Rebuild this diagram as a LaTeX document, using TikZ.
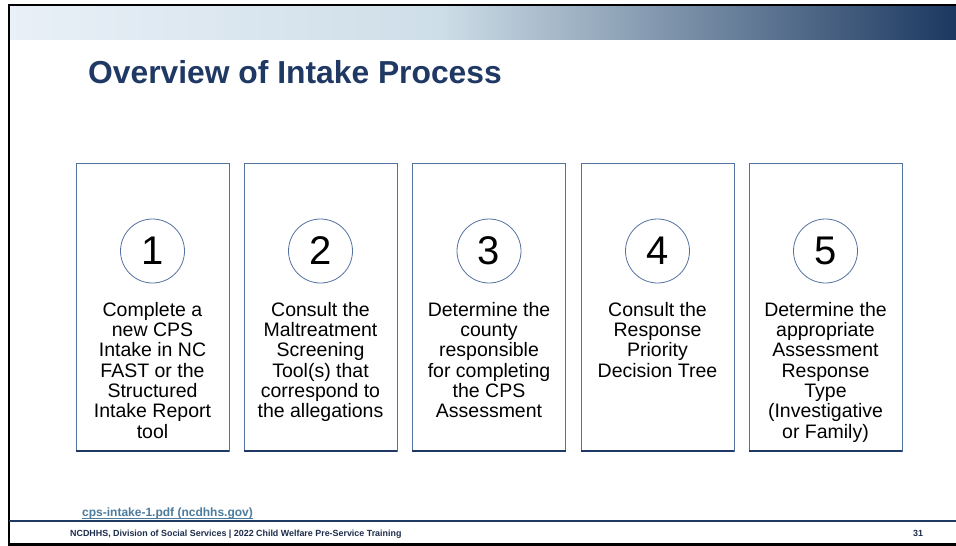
\documentclass[tikz,border=0pt]{standalone}
\usepackage{fontspec}
\setmainfont{Liberation Sans}
\definecolor{navy}{RGB}{31,56,100}
\definecolor{boxblue}{RGB}{84,114,160}
\definecolor{linkblue}{RGB}{76,124,158}
\definecolor{gradL}{RGB}{233,240,247}
\definecolor{gradM}{RGB}{206,222,232}
\definecolor{gradR}{RGB}{28,56,96}
\definecolor{foottext}{RGB}{30,45,75}
\tikzset{
  stepbox/.style={draw=boxblue, line width=0.8pt, minimum width=153pt, minimum height=288pt, inner sep=0pt},
  numcircle/.style={circle, draw=boxblue, line width=0.8pt, minimum size=64pt, inner sep=0pt, font=\fontsize{40}{44}\selectfont},
  steptext/.style={anchor=north, align=center, inner sep=0pt, font=\fontsize{19.5}{20.3}\selectfont},
  bottomrule/.style={draw=navy, line width=2pt},
  foottextstyle/.style={anchor=base west, inner sep=0pt, text=foottext, font=\fontsize{8.9}{10}\selectfont\bfseries}
}
\begin{document}
\begin{tikzpicture}[x=1pt,y=-1pt]
\useasboundingbox (0,0) rectangle (956,546);
\fill[white] (0,0) rectangle (956,546);
% top gradient bar
\shade[left color=gradL, right color=gradM] (9,6) rectangle (440,39.5);
\shade[left color=gradM, right color=gradR] (439.5,6) rectangle (956,39.5);
% frame lines
\draw[black, line width=2pt] (8,5) -- (956,5);
\draw[black, line width=2.5pt] (9,4) -- (9,545);
\draw[black, line width=3pt] (8,544.5) -- (956,544.5);
% footer rule
\draw[navy, line width=1.5pt] (9,521) -- (956,521);
% title
\node[anchor=base west, inner sep=0pt, text=navy, font=\fontsize{31.8}{38}\selectfont\bfseries] (title) at (88,83) {Overview of Intake Process};
% boxes
\foreach \i/\cx/\txt in {
  1/152.5/{Complete a\\new CPS\\Intake in NC\\FAST or the\\Structured\\Intake Report\\tool},
  2/320.5/{Consult the\\Maltreatment\\Screening\\Tool(s) that\\correspond to\\the allegations},
  3/489/{Determine the\\county\\responsible\\for completing\\the CPS\\Assessment},
  4/657.5/{Consult the\\Response\\Priority\\Decision Tree},
  5/825.5/{Determine the\\appropriate\\Assessment\\Response\\Type\\(Investigative\\or Family)}}{
  \node[stepbox] (box\i) at (\cx,307) {};
  \draw[bottomrule] (box\i.south west) -- (box\i.south east);
  \node[numcircle] (num\i) at (\cx,251) {\i};
  \node[steptext] (txt\i) at (\cx,302) {\txt};
}
% link
\node[anchor=base west, inner sep=0pt, text=linkblue, font=\fontsize{12}{14}\selectfont\bfseries] (link) at (82,516) {cps-intake-1.pdf (ncdhhs.gov)};
\draw[linkblue, line width=0.9pt] ([yshift=-2pt]link.base west) -- ([yshift=-2pt]link.base east);
% footer
\node[foottextstyle] (foot) at (70,536) {NCDHHS, Division of Social Services | 2022 Child Welfare Pre-Service Training};
\node[foottextstyle] (page) at (913,536) {31};
\end{tikzpicture}
\end{document}
